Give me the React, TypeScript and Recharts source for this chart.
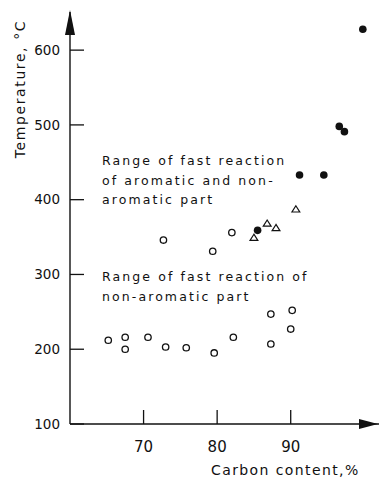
import { ScatterChart, Scatter, XAxis, YAxis, ReferenceDot } from "recharts";

const FONT = "DejaVu Sans";
const INK = "#111";

// open circles: fast reaction of the non-aromatic part
const openCarbon = [65.2, 67.5, 67.5, 70.6, 73.0, 75.8, 79.6, 82.2, 87.3, 87.3, 90.2, 90.0, 72.7, 79.4, 82.0];
const openTemp = [212, 216, 200, 216, 203, 202, 195, 216, 207, 247, 252, 227, 346, 331, 356];

// triangles
const triCarbon = [85.0, 86.8, 88.0, 90.7];
const triTemp = [349, 368, 362, 387];

// filled circles
const filledCarbon = [85.5, 91.2, 94.5, 96.6, 97.3, 99.8];
const filledTemp = [359, 433, 433, 498, 491, 628];

const xTicks = [70, 80, 90];
const yTicks = [100, 200, 300, 400, 500, 600];

const toPoints = (xs: number[], ys: number[]) => xs.map((c, i) => ({ carbon: c, temp: ys[i] }));

const openData = toPoints(openCarbon, openTemp);
const triData = toPoints(triCarbon, triTemp);
const filledData = toPoints(filledCarbon, filledTemp);

const OpenCircle = (p: any) => (
  <circle cx={p.cx} cy={p.cy} r={3.2} fill="#fff" stroke={INK} strokeWidth={1.3} />
);
const FilledCircle = (p: any) => <circle cx={p.cx} cy={p.cy} r={3.8} fill={INK} />;
const Triangle = (p: any) => (
  <path
    d={`M${p.cx},${p.cy - 3.6} L${p.cx - 3.9},${p.cy + 2.6} L${p.cx + 3.9},${p.cy + 2.6} Z`}
    fill="#fff"
    stroke={INK}
    strokeWidth={1.2}
  />
);

const textStyle = { fontFamily: FONT, fontSize: 12.5, letterSpacing: 2.1, fill: INK };

const Note = ({ lines }: { lines: string[] }) => (p: any) => (
  <text x={p.cx} y={p.cy} style={textStyle}>
    {lines.map((l, i) => (
      <tspan key={i} x={p.cx} dy={i === 0 ? 0 : 19.6}>
        {l}
      </tspan>
    ))}
  </text>
);

export default function App() {
  return (
    <div style={{ position: "absolute", left: 0, top: 0, background: "#fff" }}>
      <ScatterChart width={379} height={478} margin={{ top: 12, right: 0, bottom: 0, left: 0 }}>
        <XAxis
          type="number"
          dataKey="carbon"
          domain={[60, 102]}
          ticks={xTicks}
          height={54}
          axisLine={{ stroke: INK, strokeWidth: 1.4 }}
          tickLine={{ stroke: INK, strokeWidth: 1.3 }}
          tickSize={-14}
          tickMargin={31}
          tick={{ fill: INK, fontSize: 15, fontFamily: FONT }}
        />
        <YAxis
          type="number"
          dataKey="temp"
          domain={[100, 651]}
          ticks={yTicks}
          width={70}
          axisLine={{ stroke: INK, strokeWidth: 1.4 }}
          tickLine={{ stroke: INK, strokeWidth: 1.3 }}
          tickSize={-14}
          tickMargin={24}
          tick={{ fill: INK, fontSize: 13.5, fontFamily: FONT }}
        />
        <Scatter data={openData} shape={OpenCircle} isAnimationActive={false} />
        <Scatter data={triData} shape={Triangle} isAnimationActive={false} />
        <Scatter data={filledData} shape={FilledCircle} isAnimationActive={false} />
        <ReferenceDot
          x={60}
          y={651}
          r={0}
          shape={(p: any) => (
            <path d={`M${p.cx},${p.cy - 2} L${p.cx - 5},${p.cy + 23} L${p.cx + 5},${p.cy + 23} Z`} fill={INK} />
          )}
        />
        <ReferenceDot
          x={102}
          y={100}
          r={0}
          shape={(p: any) => (
            <path d={`M${p.cx - 1},${p.cy} L${p.cx - 20},${p.cy - 5} L${p.cx - 20},${p.cy + 5} Z`} fill={INK} />
          )}
        />
        <ReferenceDot
          x={64.35}
          y={446.4}
          r={0}
          shape={Note({ lines: ["Range of fast reaction", "of aromatic and non-", "aromatic part"] })}
        />
        <ReferenceDot
          x={64.35}
          y={291.3}
          r={0}
          shape={Note({ lines: ["Range of fast reaction of", "non-aromatic part"] })}
        />
      </ScatterChart>
      <svg width={379} height={478} style={{ position: "absolute", left: 0, top: 0, pointerEvents: "none" }}>
        <text
          x={25}
          y={89}
          transform="rotate(-90 25 89)"
          textAnchor="middle"
          style={{ fontFamily: FONT, fontSize: 14, letterSpacing: 1.6, fill: INK }}
        >
          Temperature, °C
        </text>
        <text x={211} y={475} style={{ fontFamily: FONT, fontSize: 14, letterSpacing: 1.4, fill: INK }}>
          Carbon content,%
        </text>
      </svg>
    </div>
  );
}
